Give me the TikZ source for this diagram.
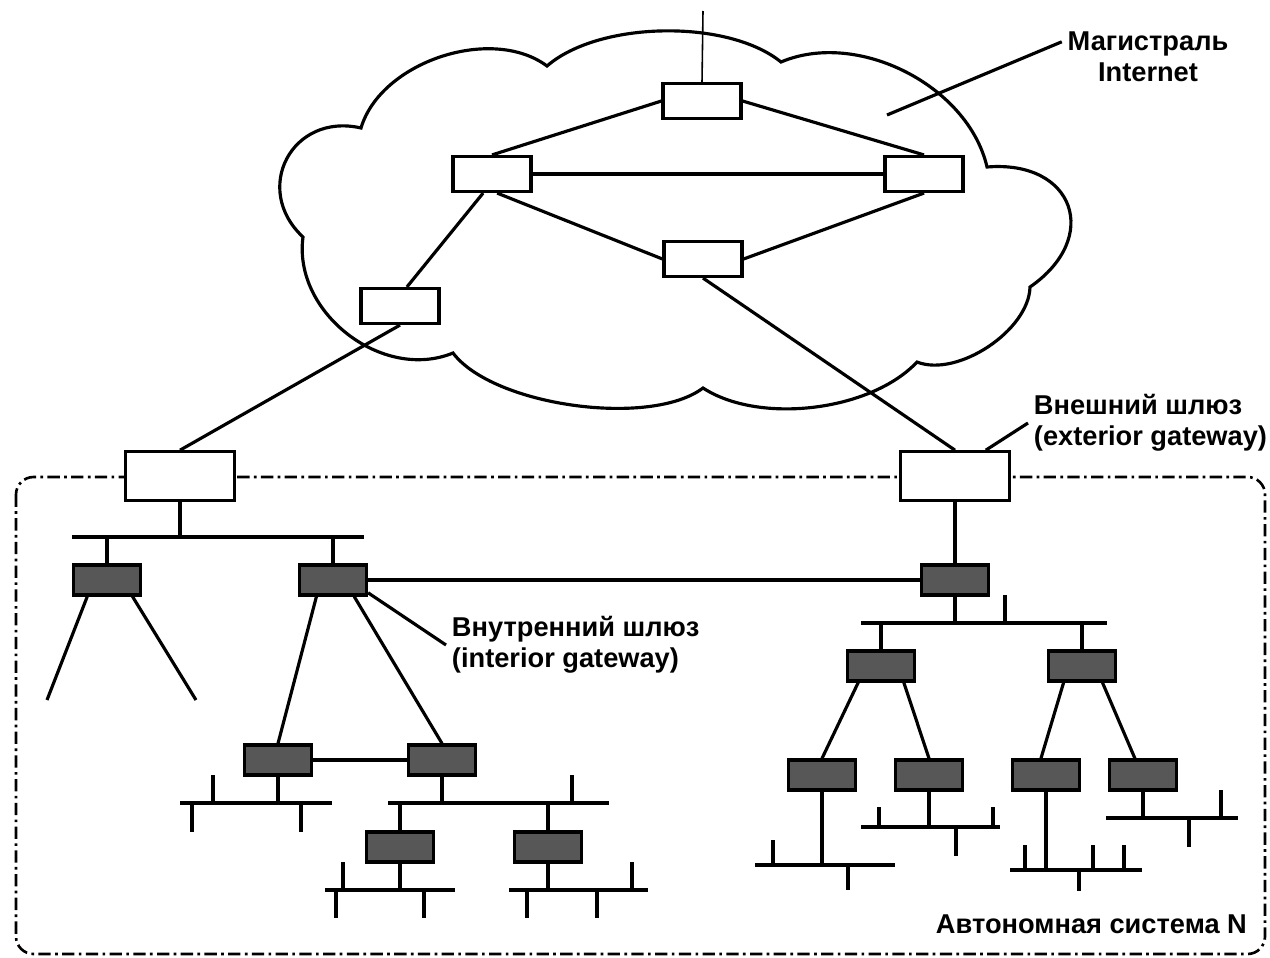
\documentclass[tikz,border=0pt]{standalone}
\usepackage{fontspec}
\setmainfont{Liberation Sans}
\begin{document}
\begin{tikzpicture}[x=0.02cm, y=-0.02cm, line width=1.8pt,
  router/.style={draw, fill=white, minimum width=1.56cm, minimum height=0.7cm, inner sep=0pt},
  extgw/.style={draw, fill=white, minimum width=2.19cm, minimum height=0.97cm, inner sep=0pt},
  intgw/.style={draw, fill=black!66, minimum width=1.34cm, minimum height=0.6cm, inner sep=0pt},
  lbl/.style={font=\bfseries\fontsize{15.5}{17.5}\selectfont, inner sep=2.5pt},
  asframe/.style={line width=1.5pt, dash pattern=on 7pt off 2.5pt on 1.5pt off 2.5pt, rounded corners=0.35cm}]

\useasboundingbox (0,0) rectangle (1270,957);

\draw (361,128) to[bend left=55, looseness=0.9] (547,66)
  to[bend left=40, looseness=0.75] (781,62)
  to[bend left=50, looseness=0.92] (987,167)
  to[bend left=75, looseness=1.75] (1030,287)
  to[bend left=55, looseness=0.82] (917,362)
  to[bend left=40, looseness=0.8] (703,388)
  to[bend left=45, looseness=0.67] (453,353)
  to[bend left=60, looseness=1.03] (303,237)
  to[bend left=75, looseness=1.46] cycle;

\draw[asframe] (16,477) rectangle (1265,954);

\node[router] (r1) at (702,101) {};
\node[router] (r2) at (492,174) {};
\node[router] (r3) at (924,174) {};
\node[router] (r4) at (703,259) {};
\node[router] (r5) at (400,306) {};
\coordinate (up) at (703,11);

\node[extgw] (egl) at (180,476) {};
\node[extgw] (egr) at (955,476) {};

\node[intgw] (g1) at (107,580) {};
\node[intgw] (g2) at (333,580) {};
\node[intgw] (g3) at (278,760) {};
\node[intgw] (g4) at (442,760) {};
\node[intgw] (g5) at (955,580) {};
\node[intgw] (g6) at (400,847) {};
\node[intgw] (g7) at (548,847) {};
\node[intgw] (g8) at (881,666) {};
\node[intgw] (g9) at (1082,666) {};
\node[intgw] (g10) at (822,775) {};
\node[intgw] (g11) at (929,775) {};
\node[intgw] (g12) at (1046,775) {};
\node[intgw] (g13) at (1143,775) {};

\draw[line width=0.9pt] (r1.north) -- (up);
\draw (r1.west) -- (r2.north);
\draw (r1.east) -- (r3.north);
\draw (r2) -- (r3);
\draw (r2.-75) -- (r4.west);
\draw (r3.south) -- (r4.east);
\draw (r2.245) -- (r5.70);
\draw (r4.south) -- (egr.north);
\draw (r5.south) -- (egl.north);

\coordinate (n1w) at (72,537);   \coordinate (n1e) at (364,537);
\coordinate (n3w) at (180,803);  \coordinate (n3e) at (332,803);
\coordinate (n4w) at (388,803);  \coordinate (n4e) at (609,803);
\coordinate (n6w) at (325,890);  \coordinate (n6e) at (455,890);
\coordinate (n7w) at (509,890);  \coordinate (n7e) at (648,890);
\coordinate (n5w) at (861,623);  \coordinate (n5e) at (1107,623);
\coordinate (n10w) at (755,865); \coordinate (n10e) at (895,865);
\coordinate (n11w) at (861,827); \coordinate (n11e) at (1000,827);
\coordinate (n12w) at (1010,870); \coordinate (n12e) at (1142,870);
\coordinate (n13w) at (1106,818); \coordinate (n13e) at (1238,818);
\coordinate (l1) at (47,700);    \coordinate (l2) at (196,700);

\draw (n1w) -- (n1e);
\draw (n3w) -- (n3e);
\draw (n4w) -- (n4e);
\draw (n6w) -- (n6e);
\draw (n7w) -- (n7e);
\draw (n5w) -- (n5e);
\draw (n10w) -- (n10e);
\draw (n11w) -- (n11e);
\draw (n12w) -- (n12e);
\draw (n13w) -- (n13e);

\draw (egl) -- (egl |- n1w);
\draw (g1) -- (g1 |- n1w);
\draw (g2) -- (g2 |- n1w);
\draw (g1.220) -- (l1);
\draw (g1.-33) -- (l2);
\draw (g2) -- (g5);
\draw (g2.225) -- (g3.north);
\draw (g2.-38) -- (g4.north);
\draw (g3) -- (g4);
\draw (g3) -- (g3 |- n3w);
\draw (g4) -- (g4 |- n4w);
\draw (g6) -- (g6 |- n4w);
\draw (g7) -- (g7 |- n4w);
\draw (g6) -- (g6 |- n6w);
\draw (g7) -- (g7 |- n7w);

\draw (egr) -- (g5);
\draw (g5) -- (g5 |- n5w);
\draw (g8) -- (g8 |- n5w);
\draw (g9) -- (g9 |- n5w);
\draw (g8.216) -- (g10.north);
\draw (g8.-36) -- (g11.north);
\draw (g9.222) -- (g12.107);
\draw (g9.-39) -- (g13.116);
\draw (g10) -- (g10 |- n10w);
\draw (g11) -- (g11 |- n11w);
\draw (g12) -- (g12 |- n12w);
\draw (g13) -- (g13 |- n13w);

\foreach \x/\y/\h in {213/803/-28, 192/803/29, 301/803/29, 572/803/-28,
  343/890/-28, 336/890/28, 424/890/28, 527/890/28, 597/890/28, 632/890/-28,
  1005/623/-28, 773/865/-25, 848/865/25, 879/827/-20, 993/827/-20, 956/827/29,
  1025/870/-25, 1093/870/-25, 1124/870/-25, 1079/870/21, 1221/818/-28, 1189/818/29}
  \draw (\x,\y) -- ++(0,\h);

\node[lbl, align=center] (lblbb) at (1148,57) {Магистраль\\Internet};
\coordinate (bbpt) at (887,115);
\draw (bbpt) -- (lblbb.170);

\node[lbl, align=left, anchor=west] (lblgw) at (1028,423) {Внешний шлюз\\(exterior gateway)};
\draw (egr.40) -- (lblgw.west);

\node[lbl, align=left, anchor=west] (lblig) at (446,645) {Внутренний шлюз\\(interior gateway)};
\draw (g2.-20) -- (lblig.west);

\node[lbl, anchor=base west] (lblas) at (930,933) {Автономная система N};

\end{tikzpicture}
\end{document}
